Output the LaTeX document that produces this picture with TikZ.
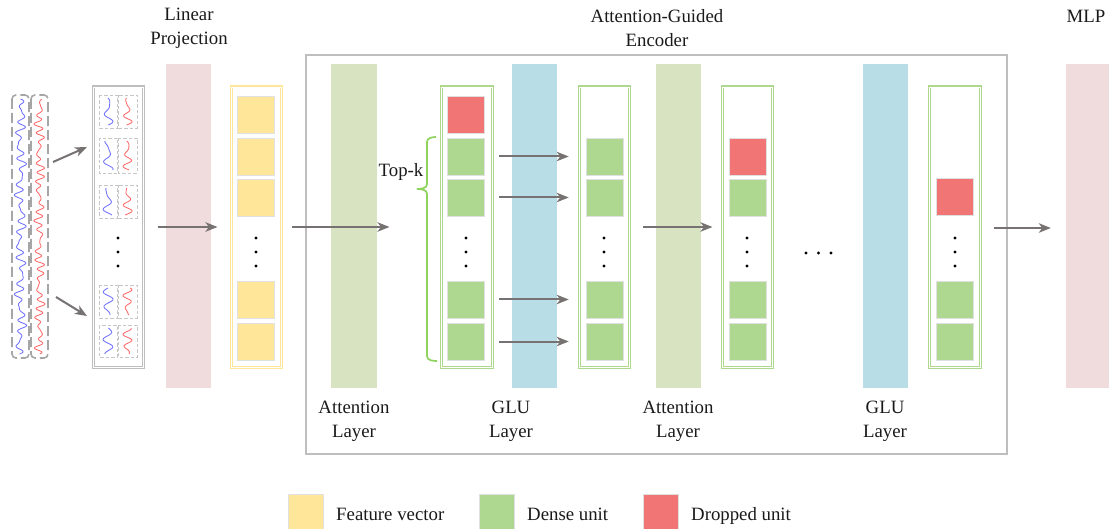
\documentclass[tikz,border=0pt]{standalone}
\usepackage{fontspec}
\setmainfont{Liberation Serif}
\usetikzlibrary{arrows.meta}
\definecolor{featY}{HTML}{FFE699}
\definecolor{denseG}{HTML}{AED78F}
\definecolor{dropR}{HTML}{F07574}
\definecolor{colG}{HTML}{AFD88F}
\definecolor{attG}{HTML}{D7E3C1}
\definecolor{gluB}{HTML}{B8DDE7}
\definecolor{pinkB}{HTML}{F0DCDC}
\definecolor{arrG}{HTML}{767272}
\definecolor{boxG}{HTML}{BEBEBE}
\definecolor{braceG}{HTML}{8ED35E}
\definecolor{sigB}{HTML}{7070FF}
\definecolor{sigR}{HTML}{FF6868}
\definecolor{txt}{HTML}{1A1A1A}
\tikzset{
  lbl/.style={font=\fontsize{18.8}{24}\selectfont, text=txt, align=center, inner sep=0},
  legtxt/.style={font=\fontsize{18.8}{24}\selectfont, text=txt, anchor=base west, inner sep=0},
  unitbox/.style={minimum width=37pt, minimum height=37pt, inner sep=0, draw=black!12, line width=0.6pt},
  feat/.style={unitbox, fill=featY},
  dense/.style={unitbox, fill=denseG},
  drop/.style={unitbox, fill=dropR},
  bar/.style={minimum width=45pt, minimum height=324pt, inner sep=0},
  colbox/.style={minimum width=49pt, minimum height=279pt, inner sep=0, line width=1.1pt, double=white, double distance=0.8pt},
  arr/.style={draw=arrG, line width=2pt, -{Stealth[length=12pt,width=9.5pt,inset=3.5pt]}},
  dotmark/.style={circle, fill=black, inner sep=0, minimum size=3.4pt},
  pdash/.style={draw=black!22, dash pattern=on 3.5pt off 2pt, line width=0.9pt},
  bigdash/.style={draw=black!35, dash pattern=on 10pt off 4pt, line width=1.6pt, rounded corners=4pt},
  bsig/.style={draw=sigB, line width=0.85pt},
  rsig/.style={draw=sigR, line width=0.85pt},
  legbox/.style={minimum width=35pt, minimum height=35pt, inner sep=0, draw=black!12, line width=0.6pt},
  bracestyle/.style={draw=braceG, line width=1.7pt},
}
\begin{document}
\begin{tikzpicture}[x=1pt,y=-1pt]
\useasboundingbox (0,0) rectangle (1111,529);

% ---------- titles ----------
\node[lbl] (tlin) at (189,28) {Linear\\Projection};
\node[lbl] (tenc) at (657,28) {Attention-Guided\\Encoder};
\node[lbl] (tmlp) at (1086,16) {MLP};

% ---------- encoder frame ----------
\node[draw=boxG, line width=1.6pt, minimum width=701pt, minimum height=399pt, inner sep=0] (enc) at (656.5,254.5) {};

% ---------- bars ----------
\node[bar, fill=pinkB] (lin) at (188.5,226) {};
\node[bar, fill=attG, minimum width=46pt] (att1) at (354,226) {};
\node[bar, fill=gluB] (glu1) at (534.5,226) {};
\node[bar, fill=attG] (att2) at (678.5,226) {};
\node[bar, fill=gluB] (glu2) at (885.5,226) {};
\node[bar, fill=pinkB, minimum width=43pt] (mlp) at (1087.5,226) {};

% ---------- bar labels ----------
\node[lbl] (latt1) at (354,421) {Attention\\Layer};
\node[lbl] (lglu1) at (511,421) {GLU\\Layer};
\node[lbl] (latt2) at (678,421) {Attention\\Layer};
\node[lbl] (lglu2) at (885,421) {GLU\\Layer};

% ---------- raw signal ----------
\draw[bigdash] (12,95) rectangle (29,358);
\draw[bigdash] (31,95) rectangle (48,358);
\coordinate (sigtop) at (53,162);
\coordinate (sigbot) at (56,297);
\draw[bsig] plot[domain=99:354, samples=500] ({20.5+2.8*sin(\x*29)+1.8*sin(40*mod(\x,9)+40)+1.8*sin(\x*7)}, \x);
\draw[rsig] plot[domain=99:354, samples=500] ({39.5+2.5*sin(\x*37+15)+1.6*sin(45*mod(\x,8)+70)+1.6*sin(\x*11)}, \x);

% ---------- patch column ----------
\node[colbox, draw=boxG, minimum width=50pt, minimum height=280pt] (pcol) at (118,227) {};
\foreach \t/\b [count=\i] in {95/128,138/173,185/218,285/318,325/357} {
  \draw[pdash] (99,\t) rectangle (117,\b);
  \draw[pdash] (118.5,\t) rectangle (137,\b);
  \pgfmathsetmacro{\ta}{\t+3}
  \pgfmathsetmacro{\bb}{\b-3}
  \draw[bsig] plot[domain=\ta:\bb, samples=60] ({108+3.4*sin(\x*21+\i*70)+1.7*sin(30*mod(\x,12)+\i*30)}, \x);
  \draw[rsig] plot[domain=\ta:\bb, samples=60] ({127.5+3*sin(\x*27+\i*50)+1.6*sin(36*mod(\x,10)+\i*20)}, \x);
}
\foreach \yy in {238,252,266} \node[dotmark] at (118,\yy) {};
\coordinate (pin1) at (87,147);
\coordinate (pin2) at (87,316);
\draw[arr] (sigtop) -- (pin1);
\draw[arr] (sigbot) -- (pin2);

% ---------- feature column ----------
\node[colbox, draw=featY, minimum width=50pt, minimum height=280pt] (fcol) at (256,227) {};
\node[feat] (f1) at (256,114.5) {};
\node[feat] (f2) at (256,156.5) {};
\node[feat] (f3) at (256,197.5) {};
\node[feat] (f4) at (256,299.5) {};
\node[feat] (f5) at (256,341.5) {};
\foreach \yy in {238,252,266} \node[dotmark] at (256,\yy) {};

% ---------- encoder columns ----------
\node[colbox, draw=colG, minimum width=51pt, minimum height=280pt] (c1) at (466.5,227) {};
\node[drop] (c1u1) at (466,114.5) {};
\node[dense] (c1u2) at (466,156.5) {};
\node[dense] (c1u3) at (466,197.5) {};
\node[dense] (c1u4) at (466,299.5) {};
\node[dense] (c1u5) at (466,341.5) {};
\foreach \yy in {238,252,266} \node[dotmark] at (466,\yy) {};

\node[colbox, draw=colG, minimum width=50pt, minimum height=280pt] (c2) at (604,227) {};
\node[dense] (c2u2) at (604.5,156.5) {};
\node[dense] (c2u3) at (604.5,197.5) {};
\node[dense] (c2u4) at (604.5,299.5) {};
\node[dense] (c2u5) at (604.5,341.5) {};
\foreach \yy in {238,252,266} \node[dotmark] at (604,\yy) {};

\node[colbox, draw=colG, minimum width=50pt, minimum height=280pt] (c3) at (747,227) {};
\node[drop] (c3u2) at (747.5,156.5) {};
\node[dense] (c3u3) at (747.5,197.5) {};
\node[dense] (c3u4) at (747.5,299.5) {};
\node[dense] (c3u5) at (747.5,341.5) {};
\foreach \yy in {238,252,266} \node[dotmark] at (747,\yy) {};

\node[colbox, draw=colG, minimum width=51pt, minimum height=280pt] (c4) at (954.5,227) {};
\node[drop] (c4u3) at (955,197) {};
\node[dense] (c4u4) at (955,299.5) {};
\node[dense] (c4u5) at (955,341.5) {};
\foreach \yy in {238,252,266} \node[dotmark] at (955,\yy) {};

% horizontal ellipsis
\node[dotmark] (e1) at (806,253) {};
\node[dotmark] (e2) at (818.5,253) {};
\node[dotmark] (e3) at (831,253) {};

% ---------- top-k brace ----------
\draw[bracestyle] (436,137) to[out=180,in=90] (427,142) -- (427,184) to[out=-90,in=0] (417,189);
\draw[bracestyle] (417,189) to[out=0,in=90] (427,194) -- (427,356) to[out=-90,in=180] (437,361);
\node[lbl] (topk) at (401,172) {Top-k};

% ---------- arrows ----------
\draw[arr] ([xshift=14pt]pcol.east) -- ([xshift=-13pt]fcol.west);
\draw[arr] ([xshift=10pt]fcol.east) -- ([xshift=-51pt]c1.west);
\draw[arr] ([xshift=14pt]c1u2.east) -- ([xshift=-17pt]c2u2.west);
\draw[arr] ([xshift=14pt]c1u3.east) -- ([xshift=-17pt]c2u3.west);
\draw[arr] ([xshift=14pt]c1u4.east) -- ([xshift=-17pt]c2u4.west);
\draw[arr] ([xshift=14pt]c1u5.east) -- ([xshift=-17pt]c2u5.west);
\draw[arr] ([xshift=13pt]c2.east) -- ([xshift=-9pt]c3.west);
\draw[arr] ([xshift=13pt,yshift=-1pt]c4.east) -- ([xshift=-15pt,yshift=-2pt]mlp.west);

% ---------- legend ----------
\node[legbox, fill=featY] (lg1) at (306,511.5) {};
\node[legtxt] (lt1) at (336,520) {Feature vector};
\node[legbox, fill=denseG] (lg2) at (497,511.5) {};
\node[legtxt] (lt2) at (527,520) {Dense unit};
\node[legbox, fill=dropR] (lg3) at (661,511.5) {};
\node[legtxt] (lt3) at (691,520) {Dropped unit};
\end{tikzpicture}
\end{document}
